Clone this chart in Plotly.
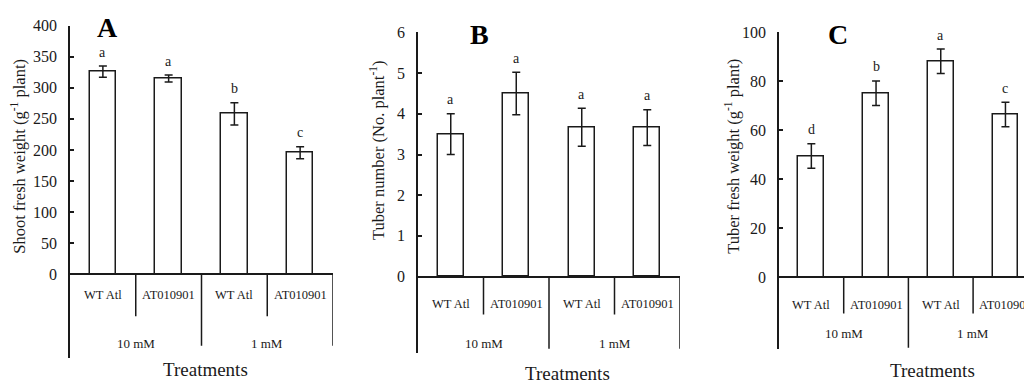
import plotly.graph_objects as go

# ---------------- data ----------------
categories = ["WT Atl", "AT010901", "WT Atl", "AT010901"]
groups = ["10 mM", "1 mM"]
group_members = [[0, 1], [2, 3]]

shoot_weight = [326, 315, 258, 195.5]
shoot_err = [9, 5.5, 18, 9.5]
shoot_letters = ["a", "a", "b", "c"]

tuber_number = [3.5, 4.5, 3.67, 3.66]
tuber_number_err = [0.5, 0.52, 0.47, 0.44]
tuber_number_letters = ["a", "a", "a", "a"]

tuber_weight = [49.5, 75.2, 88.2, 66.5]
tuber_weight_err = [5, 5, 5, 5]
tuber_weight_letters = ["d", "b", "a", "c"]

y_titles = ["Shoot fresh weight (g<sup>-1</sup> plant)",
            "Tuber number (No. plant<sup>-1</sup>)",
            "Tuber fresh weight (g<sup>-1</sup> plant)"]
panel_labels = ["A", "B", "C"]
x_title = "Treatments"

ticks_A = list(range(0, 401, 50))
ticks_B = list(range(0, 7, 1))
ticks_C = list(range(0, 101, 20))

# ---------------- layout geometry (pixels) ----------------
W, H = 1024, 380
FONT = "Liberation Serif, Times New Roman, serif"
INK = "#1a1a1a"

panels = [
    dict(vals=shoot_weight, err=shoot_err, letters=shoot_letters, ticks=ticks_A,
         left=70, catw=65.75, top=18, zero=272, bottom=358, inner=315, outer=345,
         row1=293, row2=343, title_x=19, title_y=152, label_x=107, label_y=20,
         xt_x=205, xt_y=369),
    dict(vals=tuber_number, err=tuber_number_err, letters=tuber_number_letters, ticks=ticks_B,
         left=418, catw=65.5, top=25, zero=274.3, bottom=352, inner=313, outer=348,
         row1=302, row2=343, title_x=378, title_y=145, label_x=479, label_y=27,
         xt_x=567, xt_y=373),
    dict(vals=tuber_weight, err=tuber_weight_err, letters=tuber_weight_letters, ticks=ticks_C,
         left=779, catw=64.7, top=25, zero=275, bottom=348, inner=312, outer=347,
         row1=303, row2=332, title_x=733, title_y=152, label_x=838, label_y=27,
         xt_x=932, xt_y=370),
]

fig = go.Figure()
annotations = []
shapes = []

for i, p in enumerate(panels):
    sfx = "" if i == 0 else str(i + 1)
    xa, ya = "x" + sfx, "y" + sfx
    n = len(categories)
    right_px = min(p["left"] + n * p["catw"], W)
    xmax = -0.5 + (right_px - p["left"]) / p["catw"]
    ymax = p["ticks"][-1]
    ppu = (p["zero"] - p["top"]) / ymax          # pixels per data unit
    ymin = -(p["bottom"] - p["zero"]) / ppu

    def py(px):
        return -(px - p["zero"]) / ppu

    xs = list(range(n))
    fig.add_trace(go.Bar(
        x=xs, y=p["vals"], width=0.4, xaxis=xa, yaxis=ya, showlegend=False,
        marker=dict(color="white", line=dict(color=INK, width=1.5)),
        error_y=dict(type="data", array=p["err"], color=INK, thickness=1.5, width=4),
        hoverinfo="skip",
    ))

    fig.layout["xaxis" + sfx] = dict(
        domain=[p["left"] / W, right_px / W], range=[-0.5, xmax],
        showline=False, showticklabels=False, ticks="", zeroline=False,
        showgrid=False, anchor=ya, fixedrange=True)
    fig.layout["yaxis" + sfx] = dict(
        domain=[1 - p["bottom"] / H, 1 - p["top"] / H], range=[ymin, ymax],
        showline=True, linecolor=INK, linewidth=1.5,
        ticks="inside", ticklen=4, tickwidth=1.5, tickcolor=INK,
        tickvals=p["ticks"], ticktext=[str(t) for t in p["ticks"]],
        tickfont=dict(family=FONT, size=16, color=INK), ticklabelstandoff=8,
        showgrid=False, zeroline=True, zerolinecolor=INK, zerolinewidth=1.5,
        anchor=xa, fixedrange=True)

    # significance letters
    for k in range(n):
        annotations.append(dict(
            x=k, y=p["vals"][k] + p["err"][k], xref=xa, yref=ya, yshift=14,
            text=p["letters"][k], showarrow=False, yanchor="middle",
            font=dict(family=FONT, size=14, color=INK)))

    # category labels (row 1)
    for k, c in enumerate(categories):
        annotations.append(dict(
            x=k, y=py(p["row1"]), xref=xa, yref=ya, text=c, showarrow=False,
            yanchor="middle", font=dict(family=FONT, size=12.5, color=INK)))
    # group labels (row 2)
    for g, members in zip(groups, group_members):
        annotations.append(dict(
            x=sum(members) / len(members), y=py(p["row2"]), xref=xa, yref=ya,
            text=g, showarrow=False, yanchor="middle",
            font=dict(family=FONT, size=13, color=INK)))

    # dividers between categories
    for k in range(n):
        end_of_group = any(k == m[-1] for m in group_members)
        ybot = py(p["outer"] if end_of_group else p["inner"])
        shapes.append(dict(type="line", xref=xa, yref=ya, x0=k + 0.5, x1=k + 0.5,
                           y0=0, y1=ybot, line=dict(color=INK, width=1.5)))

    # y title
    annotations.append(dict(
        x=p["title_x"] / W, y=1 - p["title_y"] / H, xref="paper", yref="paper",
        text=y_titles[i], textangle=-90, showarrow=False,
        xanchor="center", yanchor="middle",
        font=dict(family=FONT, size=16.5, color=INK)))
    # panel letter
    annotations.append(dict(
        x=p["label_x"] / W, y=1 - p["label_y"] / H, xref="paper", yref="paper",
        text="<b>" + panel_labels[i] + "</b>", showarrow=False,
        xanchor="center", yanchor="middle",
        font=dict(family=FONT, size=28, color="black")))
    # x title
    annotations.append(dict(
        x=p["xt_x"] / W, y=1 - p["xt_y"] / H, xref="paper", yref="paper",
        text=x_title, showarrow=False, xanchor="center", yanchor="middle",
        font=dict(family=FONT, size=19, color=INK)))

fig.update_layout(
    width=W, height=H, margin=dict(l=0, r=0, t=0, b=0),
    paper_bgcolor="white", plot_bgcolor="white",
    annotations=annotations, shapes=shapes, bargap=0,
)

fig.write_html("out.html", config={"displayModeBar": False})
